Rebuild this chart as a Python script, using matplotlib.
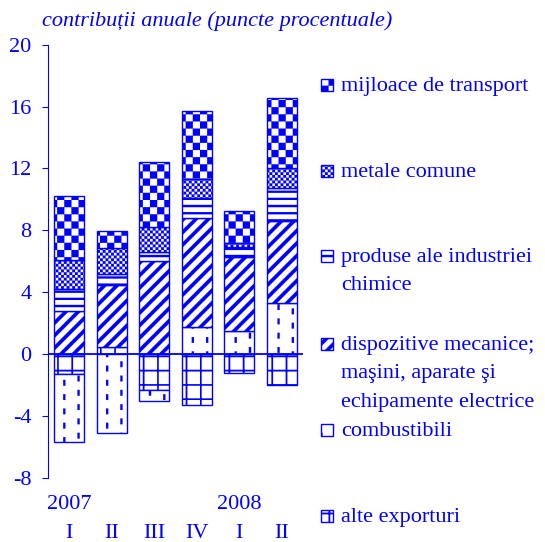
import numpy as np
import matplotlib
matplotlib.use("Agg")
import matplotlib.pyplot as plt
import matplotlib.hatch as mhatch
from matplotlib.path import Path
from matplotlib.patches import Rectangle

# quarters 2007 I .. 2008 II, contributions in percentage points
quarters = ["I", "II", "III", "IV", "I", "II"]
years = ["2007", "2008"]
year_pos = [0, 4]

alte_exporturi = [-1.3, 0.45, -2.3, -3.3, -1.25, -2.0]
combustibili = [-4.4, -5.1, -0.75, 1.75, 1.5, 3.3]
dispozitive = [2.8, 4.0, 6.0, 7.05, 4.75, 5.3]
produse_chimice = [1.4, 0.75, 0.6, 1.3, 0.7, 2.15]
metale_comune = [1.85, 1.65, 1.6, 1.2, 0.2, 1.3]
mijloace_transport = [4.15, 1.1, 4.2, 4.4, 2.1, 4.5]

series = [alte_exporturi, combustibili, dispozitive,
          produse_chimice, metale_comune, mijloace_transport]
series_labels = ["alte exporturi", "combustibili",
                 "dispozitive mecanice;\nmaşini, aparate şi\nechipamente electrice",
                 "produse ale industriei\nchimice", "metale comune",
                 "mijloace de transport"]
hatches = ["+", ".", "/", "-", "o", "O"]

BLUE = "#0000FF"


# ---- custom filled hatch patterns (unit square = one inch tile) ----
def rect(x0, y0, x1, y1):
    return [(x0, y0), (x1, y0), (x1, y1), (x0, y1)]


def checker(n):
    a = 1 / (2 * n)
    return [rect(i * a, j * a, (i + 1) * a, (j + 1) * a)
            for i in range(2 * n) for j in range(2 * n) if (i + j) % 2 == 0]


class PolyHatch(mhatch.HatchPatternBase):
    char = "?"

    def __init__(self, hatch, density):
        self.polys = self.shapes() if self.char in hatch else []
        self.num_vertices = sum(len(p) + 1 for p in self.polys)

    def set_vertices_and_codes(self, vertices, codes):
        i = 0
        for p in self.polys:
            n = len(p)
            vertices[i:i + n] = p
            vertices[i + n] = p[0]
            codes[i] = Path.MOVETO
            codes[i + 1:i + n] = Path.LINETO
            codes[i + n] = Path.CLOSEPOLY
            i += n + 1


class BigChecker(PolyHatch):
    char = "O"

    def shapes(self):
        return checker(7)


class SmallChecker(PolyHatch):
    char = "o"

    def shapes(self):
        return checker(18)


class HLines(PolyHatch):
    char = "-"

    def shapes(self):
        n = 14
        return [rect(0, k / n, 1, k / n + 0.022) for k in range(n)]


class Diagonal(PolyHatch):
    char = "/"

    def shapes(self):
        n, w = 8, 0.05
        return [[(k / n, 0), (k / n + w, 0), (k / n + w + 1, 1), (k / n + 1, 1)]
                for k in range(-n - 1, n + 1)]


class Dashes(PolyHatch):
    char = "."

    def shapes(self):
        nc, nr = 7, 7
        out = []
        for i in range(nc):
            x = (i + 0.5) / nc
            off = (i % 2) * 0.3 / nr
            for j in range(-1, nr + 1):
                y = j / nr + off
                out.append(rect(x - 0.011, y, x + 0.011, y + 0.058))
        return out


class Grid(PolyHatch):
    char = "+"

    def shapes(self):
        n, t = 7, 0.016
        out = [rect(0, k / n, 1, k / n + t) for k in range(n)]
        out += [rect(k / n, 0, k / n + t, 1) for k in range(n)]
        return out


mhatch._hatch_types = [BigChecker, SmallChecker, HLines, Diagonal, Dashes, Grid]

plt.rcParams["font.family"] = ["Liberation Serif", "DejaVu Serif"]
plt.rcParams["axes.unicode_minus"] = False
plt.rcParams["hatch.linewidth"] = 0.1
plt.rcParams["hatch.color"] = BLUE

W, H = 545, 542
fig = plt.figure(figsize=(W / 100, H / 100), dpi=100)
ax = fig.add_axes([48 / W, 1 - 477.7 / H, (303 - 48) / W, 433 / H])

x = np.arange(len(quarters))
pos = np.zeros(len(x))
neg = np.zeros(len(x))
for vals, hatch in zip(series, hatches):
    v = np.array(vals)
    bottom = np.where(v >= 0, pos, neg)
    ax.bar(x, v, width=0.71, bottom=bottom, color="white", edgecolor=BLUE,
           linewidth=1.0, hatch=hatch, zorder=2)
    pos += np.where(v >= 0, v, 0)
    neg += np.where(v < 0, v, 0)

ax.axhline(0, color=BLUE, lw=1.3, zorder=3)
ax.set_xlim(-0.5, 5.5)
ax.set_ylim(-8, 20)
for s in ["top", "right", "bottom"]:
    ax.spines[s].set_visible(False)
ax.spines["left"].set_color(BLUE)
ax.set_yticks(range(-8, 21, 4))
ax.tick_params(axis="y", direction="out", length=4, color=BLUE,
               labelcolor=BLUE, labelsize=16, pad=8)
ax.set_xticks(x)
ax.set_xticklabels(quarters)
ax.tick_params(axis="x", length=0, labelcolor=BLUE, labelsize=16, pad=33)
for yp, yr in zip(year_pos, years):
    ax.text(yp, -0.062, yr, transform=ax.get_xaxis_transform(), ha="center",
            va="center", fontsize=16, color=BLUE)

fig.text(42 / W, 1 - 21 / H, "contribuții anuale (puncte procentuale)",
         style="italic", ha="left", va="center", fontsize=16, color=BLUE)

# legend on the right, entries top to bottom
legend_base = {"mijloace de transport": 90.7, "metale comune": 176.7,
               "produse ale industriei\nchimice": 261.7,
               "dispozitive mecanice;\nmaşini, aparate şi\nechipamente electrice": 350,
               "combustibili": 436, "alte exporturi": 521.7}
for lab, hatch in zip(series_labels, hatches):
    yb = legend_base[lab]
    fig.add_artist(Rectangle((321 / W, 1 - yb / H), 12 / W, 12 / H,
                             transform=fig.transFigure, facecolor="white",
                             edgecolor=BLUE, linewidth=1.0, hatch=hatch))
    for k, line in enumerate(lab.split("\n")):
        fig.text(340.7 / W, 1 - (yb + 28.3 * k) / H, line, ha="left",
                 va="baseline", fontsize=16, color=BLUE)

fig.savefig("out.png", dpi=100)
